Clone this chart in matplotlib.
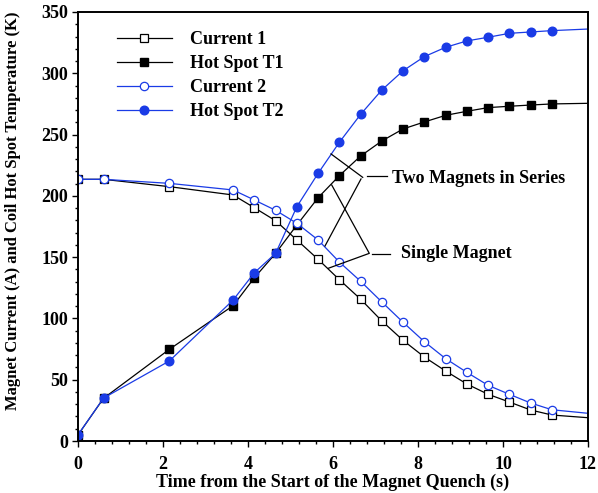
import matplotlib
matplotlib.use('Agg')
import matplotlib.pyplot as plt
from matplotlib.ticker import MultipleLocator

plt.rcParams['font.family'] = ['Liberation Serif', 'DejaVu Serif']
plt.rcParams['font.weight'] = 'bold'

# time points (s); last point (12 s) is drawn without a marker
t = [0, 0.6, 2.15, 3.65, 4.15, 4.65, 5.15, 5.65, 6.15, 6.65, 7.15, 7.65,
     8.15, 8.65, 9.15, 9.65, 10.15, 10.65, 11.15, 12.0]

current1 = [213.5, 213.5, 207.5, 200.7, 190.3, 179.7, 164.0, 148.2, 131.6, 115.7,
            97.9, 82.1, 68.5, 57.1, 46.5, 38.1, 31.8, 25.3, 21.2, 19.0]
hotspot1 = [5.0, 34.8, 74.8, 110.4, 133.2, 153.1, 176.2, 198.5, 216.5, 232.5,
            244.8, 254.6, 260.3, 265.7, 269.0, 272.0, 273.1, 274.1, 275.0, 275.5]
current2 = [213.5, 213.5, 210.2, 204.8, 196.6, 188.2, 177.6, 164.0, 146.0, 130.3,
            113.4, 96.8, 81.0, 67.2, 56.0, 45.4, 38.1, 31.0, 25.5, 22.6]
hotspot2 = [5.0, 35.0, 65.3, 115.0, 137.3, 153.1, 191.2, 218.4, 243.7, 266.5,
            286.4, 302.1, 313.6, 321.2, 326.4, 329.4, 332.6, 333.7, 334.8, 336.1]

labels = ['Current 1', 'Hot Spot T1', 'Current 2', 'Hot Spot T2']
blue = '#1a3be6'

fig = plt.figure(figsize=(5.98, 4.93), dpi=100)
ax = fig.add_axes([78 / 598, 1 - 441 / 493, 510 / 598, 429 / 493])

mk = slice(0, -1)
ax.plot(t, current1, color='black', lw=0.9, marker='s', ms=5.4, mfc='white',
        mec='black', mew=0.9, markevery=mk, label=labels[0])
ax.plot(t, hotspot1, color='black', lw=0.9, marker='s', ms=5.4, mfc='black',
        mec='black', markevery=mk, label=labels[1])
ax.plot(t, current2, color=blue, lw=0.9, marker='o', ms=6.0, mfc='white',
        mec=blue, mew=0.9, markevery=mk, label=labels[2])
ax.plot(t, hotspot2, color=blue, lw=0.9, marker='o', ms=6.2, mfc=blue,
        mec=blue, markevery=mk, label=labels[3])

# annotation leader lines
ln = dict(color='black', lw=0.9)
ax.plot([5.953, 6.699], [234.2, 215.1], **ln)
ax.plot([6.659, 5.812], [213.8, 159.1], **ln)
ax.plot([6.793, 7.264], [216.4, 216.4], **ln)
ax.text(7.39, 214.5, 'Two Magnets in Series', fontsize=13, fontweight='bold',
        va='center', ha='left')
ax.plot([5.969, 6.854, 5.889], [208.9, 153.1, 140.9], **ln)
ax.plot([6.911, 7.341], [152.6, 152.6], **ln)
ax.text(7.6, 153.0, 'Single Magnet', fontsize=13, fontweight='bold',
        va='center', ha='left')

ax.set_xlim(0, 12)
ax.set_ylim(0, 350)
ax.xaxis.set_major_locator(MultipleLocator(2))
ax.xaxis.set_minor_locator(MultipleLocator(0.4))
ax.yaxis.set_major_locator(MultipleLocator(50))
ax.yaxis.set_minor_locator(MultipleLocator(10))
ax.tick_params(which='both', direction='out', width=1.0, labelsize=13)
ax.tick_params(which='major', length=4)
ax.tick_params(which='minor', length=2)
ax.tick_params(axis='x', which='major', pad=6.5)
ax.tick_params(axis='y', which='major', pad=3)
for lab in ax.get_xticklabels() + ax.get_yticklabels():
    lab.set_fontweight('bold')
for s in ax.spines.values():
    s.set_linewidth(1.4)

ax.set_xlabel('Time from the Start of the Magnet Quench (s)', fontsize=13,
              fontweight='bold', labelpad=1)
ax.set_ylabel('Magnet Current (A) and Coil Hot Spot Temperature (K)', fontsize=12,
              fontweight='bold')
ax.yaxis.set_label_coords(-0.112, 0.536)

leg = ax.legend(loc='upper left', bbox_to_anchor=(0.076, 0.955), frameon=False,
                fontsize=13, handlelength=3.05, handletextpad=1.0, labelspacing=0.38,
                borderpad=0, borderaxespad=0)
for txt in leg.get_texts():
    txt.set_fontweight('bold')

fig.savefig('out.png', dpi=100)
